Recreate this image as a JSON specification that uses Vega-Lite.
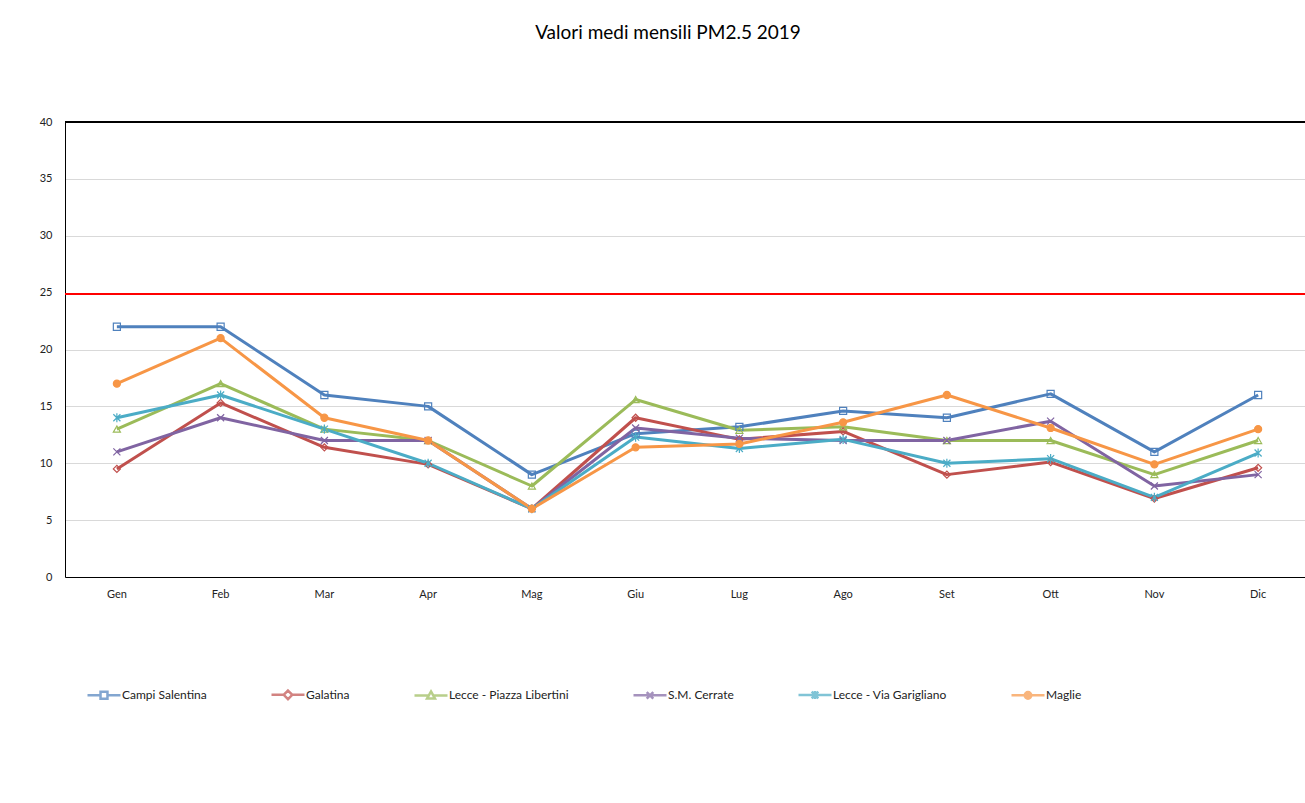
{
  "$schema": "https://vega.github.io/schema/vega-lite/v6.json",
  "width": 1240,
  "height": 455,
  "autosize": {"type": "none"},
  "padding": {"left": 65, "top": 122, "right": 0, "bottom": 226},
  "background": "white",
  "config": {"view": {"stroke": null}, "font": "Lato"},
  "title": {"text": "Valori medi mensili PM2.5 2019", "anchor": "middle", "frame": "group", "font": "Lato", "fontSize": 19, "fontWeight": "normal", "color": "#000000", "offset": 73, "dx": -17},
  "data": {"values": [
    {"m":"Gen","s":"Campi Salentina","v":22},{"m":"Feb","s":"Campi Salentina","v":22},{"m":"Mar","s":"Campi Salentina","v":16},{"m":"Apr","s":"Campi Salentina","v":15},{"m":"Mag","s":"Campi Salentina","v":9},{"m":"Giu","s":"Campi Salentina","v":12.6},{"m":"Lug","s":"Campi Salentina","v":13.2},{"m":"Ago","s":"Campi Salentina","v":14.6},{"m":"Set","s":"Campi Salentina","v":14},{"m":"Ott","s":"Campi Salentina","v":16.1},{"m":"Nov","s":"Campi Salentina","v":11},{"m":"Dic","s":"Campi Salentina","v":16},
    {"m":"Gen","s":"Galatina","v":9.5},{"m":"Feb","s":"Galatina","v":15.3},{"m":"Mar","s":"Galatina","v":11.4},{"m":"Apr","s":"Galatina","v":9.9},{"m":"Mag","s":"Galatina","v":6},{"m":"Giu","s":"Galatina","v":14},{"m":"Lug","s":"Galatina","v":12.1},{"m":"Ago","s":"Galatina","v":12.8},{"m":"Set","s":"Galatina","v":9},{"m":"Ott","s":"Galatina","v":10.1},{"m":"Nov","s":"Galatina","v":6.9},{"m":"Dic","s":"Galatina","v":9.6},
    {"m":"Gen","s":"Lecce - Piazza Libertini","v":13},{"m":"Feb","s":"Lecce - Piazza Libertini","v":17},{"m":"Mar","s":"Lecce - Piazza Libertini","v":13},{"m":"Apr","s":"Lecce - Piazza Libertini","v":12},{"m":"Mag","s":"Lecce - Piazza Libertini","v":8},{"m":"Giu","s":"Lecce - Piazza Libertini","v":15.6},{"m":"Lug","s":"Lecce - Piazza Libertini","v":12.9},{"m":"Ago","s":"Lecce - Piazza Libertini","v":13.2},{"m":"Set","s":"Lecce - Piazza Libertini","v":12},{"m":"Ott","s":"Lecce - Piazza Libertini","v":12},{"m":"Nov","s":"Lecce - Piazza Libertini","v":9},{"m":"Dic","s":"Lecce - Piazza Libertini","v":12},
    {"m":"Gen","s":"S.M. Cerrate","v":11},{"m":"Feb","s":"S.M. Cerrate","v":14},{"m":"Mar","s":"S.M. Cerrate","v":12},{"m":"Apr","s":"S.M. Cerrate","v":12},{"m":"Mag","s":"S.M. Cerrate","v":6},{"m":"Giu","s":"S.M. Cerrate","v":13.1},{"m":"Lug","s":"S.M. Cerrate","v":12.2},{"m":"Ago","s":"S.M. Cerrate","v":12},{"m":"Set","s":"S.M. Cerrate","v":12},{"m":"Ott","s":"S.M. Cerrate","v":13.7},{"m":"Nov","s":"S.M. Cerrate","v":8},{"m":"Dic","s":"S.M. Cerrate","v":9},
    {"m":"Gen","s":"Lecce - Via Garigliano","v":14},{"m":"Feb","s":"Lecce - Via Garigliano","v":16},{"m":"Mar","s":"Lecce - Via Garigliano","v":13},{"m":"Apr","s":"Lecce - Via Garigliano","v":10},{"m":"Mag","s":"Lecce - Via Garigliano","v":6},{"m":"Giu","s":"Lecce - Via Garigliano","v":12.3},{"m":"Lug","s":"Lecce - Via Garigliano","v":11.3},{"m":"Ago","s":"Lecce - Via Garigliano","v":12.1},{"m":"Set","s":"Lecce - Via Garigliano","v":10},{"m":"Ott","s":"Lecce - Via Garigliano","v":10.4},{"m":"Nov","s":"Lecce - Via Garigliano","v":7},{"m":"Dic","s":"Lecce - Via Garigliano","v":10.9},
    {"m":"Gen","s":"Maglie","v":17},{"m":"Feb","s":"Maglie","v":21},{"m":"Mar","s":"Maglie","v":14},{"m":"Apr","s":"Maglie","v":12},{"m":"Mag","s":"Maglie","v":6},{"m":"Giu","s":"Maglie","v":11.4},{"m":"Lug","s":"Maglie","v":11.7},{"m":"Ago","s":"Maglie","v":13.6},{"m":"Set","s":"Maglie","v":16},{"m":"Ott","s":"Maglie","v":13.1},{"m":"Nov","s":"Maglie","v":9.9},{"m":"Dic","s":"Maglie","v":13}
  ]},
  "encoding": {
    "x": {"field": "m", "type": "nominal", "title": null,
      "scale": {"type": "band", "domain": ["Gen","Feb","Mar","Apr","Mag","Giu","Lug","Ago","Set","Ott","Nov","Dic"], "range": [0, 1245]},
      "axis": {"labelAngle": 0, "ticks": false, "tickSize": 0, "domainColor": "#000000", "domainWidth": 1, "labelPadding": 11, "labelFont": "Lato", "labelFontSize": 11, "labelColor": "#222222", "grid": false}},
    "y": {"field": "v", "type": "quantitative", "title": null,
      "scale": {"domain": [0, 40], "nice": false},
      "axis": {"values": [0,5,10,15,20,25,30,35,40], "ticks": false, "tickSize": 0, "domainColor": "#000000", "domainWidth": 1, "labelPadding": 13, "labelFont": "Lato", "labelFontSize": 11, "labelColor": "#222222", "grid": true, "gridColor": "#D9D9D9", "gridWidth": 1}}
  },
  "layer": [
    {"mark": {"type": "rule", "color": "#000000", "strokeWidth": 1}, "encoding": {"y": {"datum": 40, "type": "quantitative"}, "x": null}},
    {"mark": {"type": "rule", "color": "#FF0000", "strokeWidth": 1.5}, "encoding": {"y": {"datum": 24.85, "type": "quantitative"}, "x": null}},
    {"mark": {"type": "line", "strokeWidth": 3, "strokeJoin": "round"},
      "encoding": {"stroke": {"field": "s", "type": "nominal", "legend": null,
        "scale": {"domain": ["Campi Salentina","Galatina","Lecce - Piazza Libertini","S.M. Cerrate","Lecce - Via Garigliano","Maglie"], "range": ["#4F81BD","#C0504D","#9BBB59","#8064A2","#4BACC6","#F79646"]}}}},
    {"mark": {"type": "point", "filled": true, "size": 50, "strokeWidth": 1.2, "opacity": 1},
      "encoding": {
        "stroke": {"field": "s", "type": "nominal", "legend": null},
        "fill": {"field": "s", "type": "nominal", "legend": null,
          "scale": {"domain": ["Campi Salentina","Galatina","Lecce - Piazza Libertini","S.M. Cerrate","Lecce - Via Garigliano","Maglie"], "range": ["transparent","transparent","transparent","transparent","transparent","#F79646"]}},
        "shape": {"field": "s", "type": "nominal", "legend": null,
          "scale": {"domain": ["Campi Salentina","Galatina","Lecce - Piazza Libertini","S.M. Cerrate","Lecce - Via Garigliano","Maglie"], "range": ["square","diamond","triangle-up","M-1,-1L1,1M1,-1L-1,1","M-1,-1L1,1M1,-1L-1,1M0,-1.3V1.3","circle"]}}}},
    {"transform": [{"filter": "false"}],
      "mark": {"type": "point", "filled": false, "strokeWidth": 2.5},
      "encoding": {
        "x": null, "y": null,
        "color": {"field": "s", "type": "nominal",
          "scale": {"domain": ["Campi Salentina","Galatina","Lecce - Piazza Libertini","S.M. Cerrate","Lecce - Via Garigliano","Maglie"], "range": ["#4F81BD","#C0504D","#9BBB59","#8064A2","#4BACC6","#F79646"]},
          "legend": {"orient": "none", "legendX": 21, "legendY": 554.5, "direction": "horizontal", "columns": 6, "title": null, "symbolSize": 1089, "symbolStrokeWidth": 2.5, "labelFont": "Lato", "labelFontSize": 12, "labelColor": "#222222", "labelOffset": 0, "columnPadding": 59, "padding": 0, "labelLimit": 300}},
        "shape": {"field": "s", "type": "nominal",
          "scale": {"domain": ["Campi Salentina","Galatina","Lecce - Piazza Libertini","S.M. Cerrate","Lecce - Via Garigliano","Maglie"], "range": [
            "M-1,0H-0.21M0.21,0H1M-0.21,-0.21H0.21V0.21H-0.21Z",
            "M-1,0H-0.26M0.26,0H1M0,-0.26L0.26,0L0,0.26L-0.26,0Z",
            "M-1,0H-0.14M0.14,0H1M0,-0.24L0.24,0.19H-0.24Z",
            "M-1,0H1M-0.2,-0.2L0.2,0.2M0.2,-0.2L-0.2,0.2",
            "M-1,0H1M-0.2,-0.2L0.2,0.2M0.2,-0.2L-0.2,0.2M0,-0.24V0.24",
            "M-1,0H1M-0.2,0A0.2,0.2 0 1,1 0.2,0A0.2,0.2 0 1,1 -0.2,0M-0.1,0A0.1,0.1 0 1,1 0.1,0A0.1,0.1 0 1,1 -0.1,0"]},
          "legend": {"orient": "none", "legendX": 21, "legendY": 554.5, "direction": "horizontal", "columns": 6, "title": null, "symbolSize": 1089, "symbolStrokeWidth": 2.5, "labelFont": "Lato", "labelFontSize": 12, "labelColor": "#222222", "labelOffset": 0, "columnPadding": 59, "padding": 0, "labelLimit": 300}}}}
  ],
  "resolve": {"scale": {"shape": "independent", "color": "independent"}, "legend": {"shape": "independent", "color": "independent"}}
}
